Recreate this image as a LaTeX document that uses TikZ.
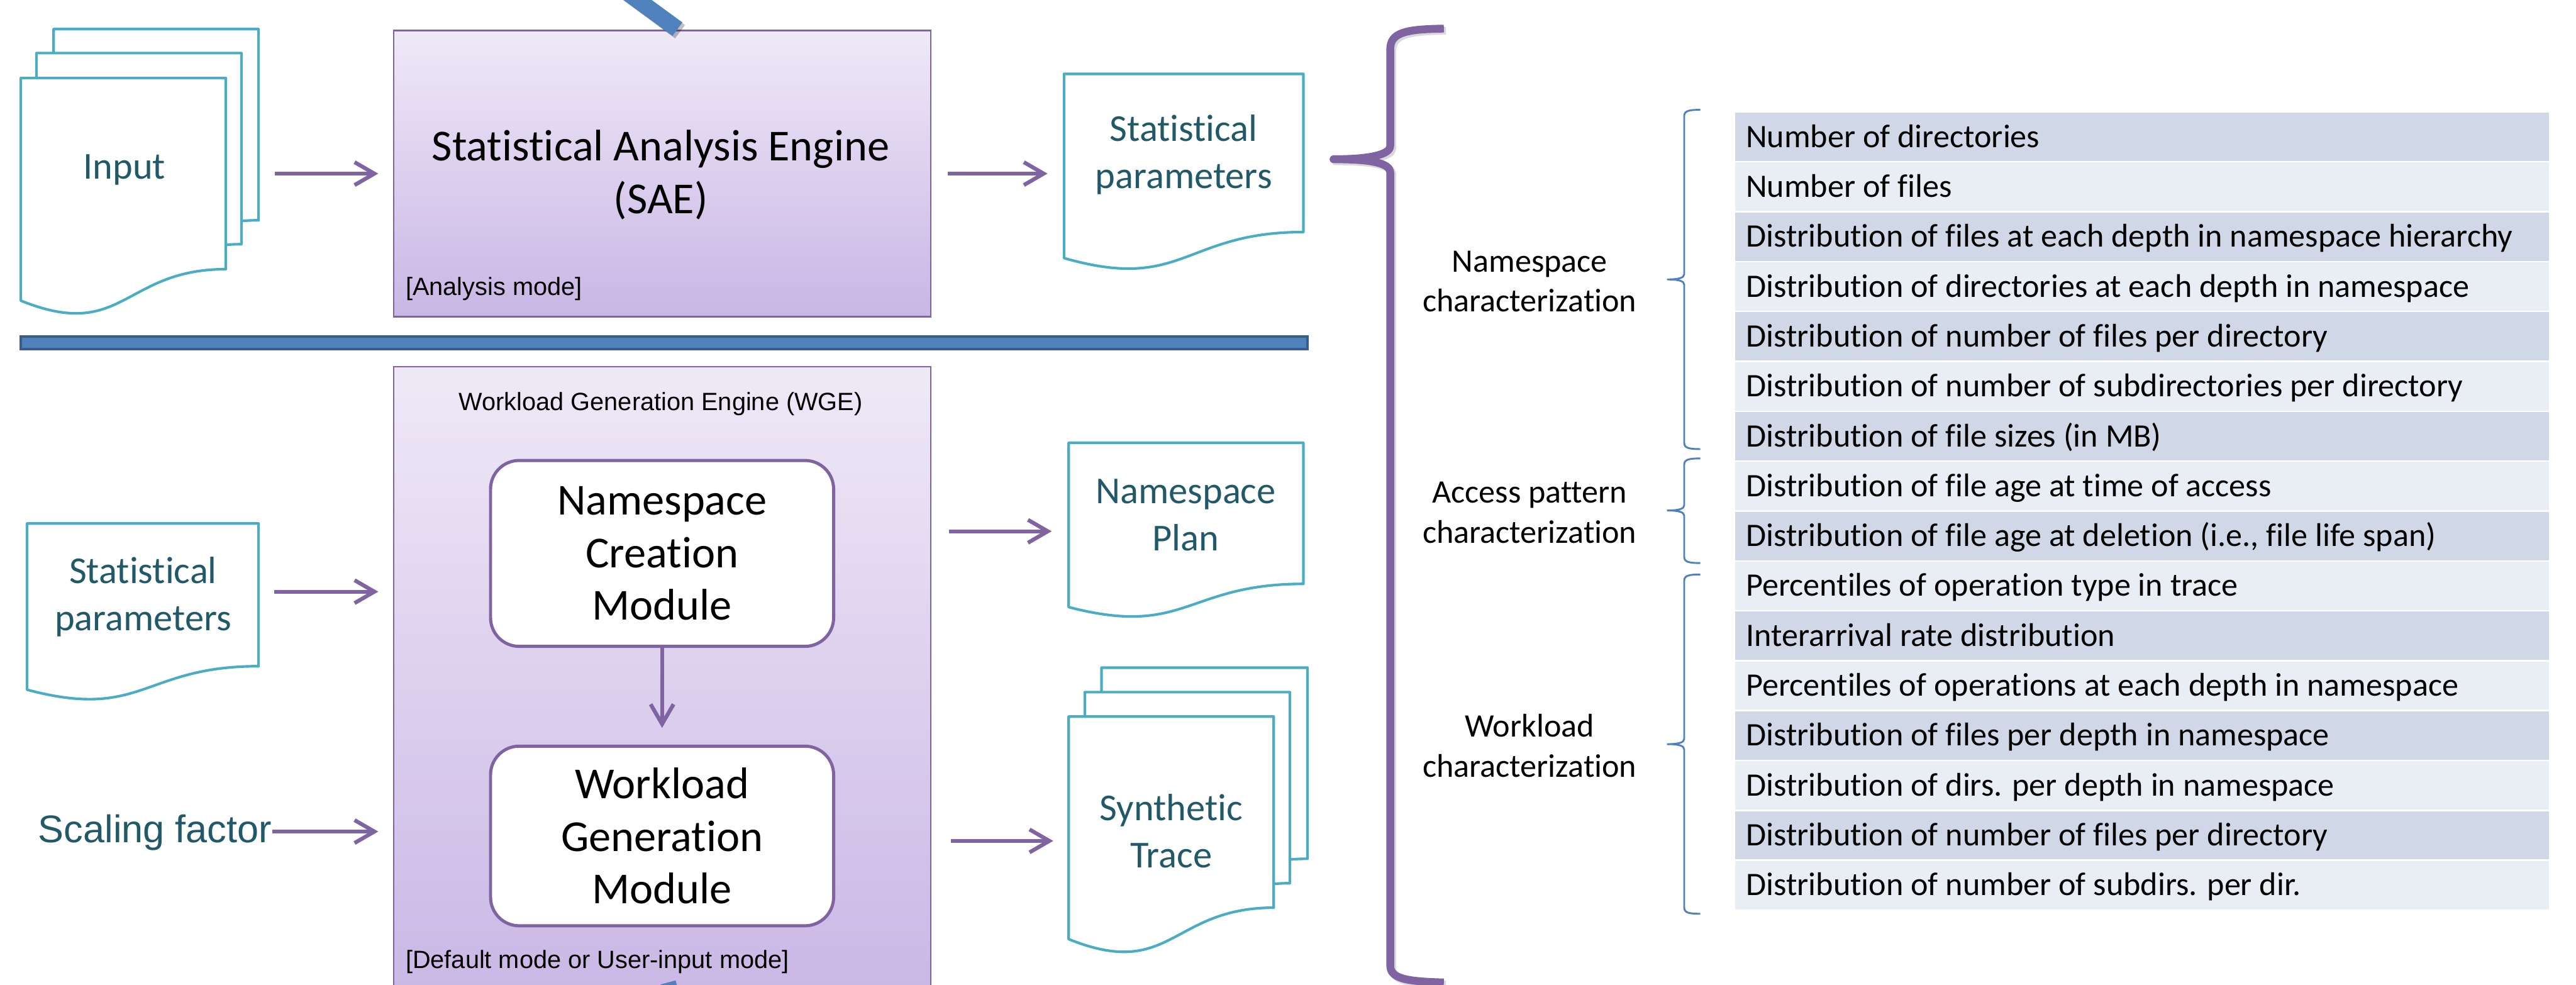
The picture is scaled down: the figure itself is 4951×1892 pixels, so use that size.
\documentclass[tikz,border=0pt]{standalone}
\usepackage{fontspec}
\setmainfont{Carlito}[Ligatures=NoCommon]
\newfontfamily\arialf{Liberation Sans}
\usetikzlibrary{arrows.meta,fit}
\definecolor{purp}{HTML}{8064A2}
\definecolor{docc}{HTML}{4BACC6}
\definecolor{tealt}{HTML}{215968}
\definecolor{barb}{HTML}{4F81BD}
\definecolor{bard}{HTML}{385D8A}
\definecolor{rowd}{HTML}{D0D8E8}
\definecolor{rowl}{HTML}{E9EDF4}
\definecolor{gtop}{HTML}{EFE9F7}
\definecolor{gbot}{HTML}{C9B6E5}
\newcommand\fszpx[2]{\fontsize{\fpeval{#1*0.28453}pt}{\fpeval{#2*0.28453}pt}\selectfont}
% document shape: name, left, top, right, height
\newcommand\docshape[5]{%
  \draw[docshp] (#2,#3) -- (#4,#3) -- (#4,{#3+0.802*#5})
    .. controls ({(#2+#4)/2},{#3+0.802*#5}) and ({(#2+#4)/2},{#3+1.1075*#5}) .. (#2,{#3+0.934*#5}) -- cycle;
  \node[fit={(#2,#3) (#4,{#3+0.934*#5})}, inner sep=0pt] (#1) {};}
% small brace: top, cusp, bottom
\newcommand\sbrace[3]{%
  \draw[sbr] (3268,#1) .. controls (3246,#1) and (3237,{#1+2}) .. (3237,{#1+12})
    -- (3237,{#2-10}) .. controls (3237,{#2-3}) and (3226,#2) .. (3204,#2)
    .. controls (3226,#2) and (3237,{#2+3}) .. (3237,{#2+10})
    -- (3237,{#3-12}) .. controls (3237,{#3-2}) and (3246,#3) .. (3268,#3);}
\begin{document}
\begin{tikzpicture}[x=0.01cm,y=-0.01cm,
  docshp/.style={draw=docc, line width=0.05cm, fill=white, line join=round},
  doctext/.style={text=tealt, font=\fszpx{73}{90}, align=center, inner sep=0pt},
  arr/.style={draw=purp, line width=0.075cm, -{Straight Barb[length=3.8mm,width=4.4mm]}},
  engine/.style={draw=purp, line width=0.03cm, top color=gtop, bottom color=gbot, inner sep=0pt},
  module/.style={draw=purp, line width=0.06cm, fill=white, rounded corners=0.55cm, inner sep=0pt,
                 font=\fszpx{85}{101}, align=center},
  bigtext/.style={font=\fszpx{85}{102}, align=center, inner sep=0pt},
  modetext/.style={font=\arialf\fszpx{48}{58}, inner sep=0pt},
  chartext/.style={font=\fszpx{63}{77}, align=center, inner sep=0pt},
  rowtext/.style={font=\fszpx{63}{77}, inner sep=0pt, anchor=base west},
  sbr/.style={draw=barb, line width=0.035cm}]
\useasboundingbox (0,0) rectangle (4951,1892);
\clip (0,0) rectangle (4951,1892);
\fill[white] (0,0) rectangle (4951,1892);

% ---------- engines ----------
\node[engine, minimum width=10.32cm, minimum height=5.5cm, anchor=north west] (sae) at (755,57) {};
\node[bigtext] (saeT) at (1270,336) {Statistical Analysis Engine\\(SAE)};
\node[modetext, anchor=base west] (saeM) at (779,568) {[Analysis mode]};

\node[engine, minimum width=10.32cm, minimum height=12.4cm, anchor=north west] (wge) at (755,703) {};
\node[modetext] (wgeT) at (1270,776) {Workload Generation Engine (WGE)};
\node[modetext, anchor=base west] (wgeM) at (779,1861) {[Default mode or User-input mode]};

\node[module, minimum width=6.59cm, minimum height=3.57cm] (ncm) at (1272.5,1063.5) {Namespace\\Creation\\Module};
\node[module, minimum width=6.59cm, minimum height=3.45cm] (wgm) at (1272.5,1606.5) {Workload\\Generation\\Module};
\draw[arr, shorten >=0.32cm] (ncm) -- (wgm);

% ---------- blue bars ----------
\draw[black, opacity=0.25, line width=0.32cm] (1177,-35) -- (1307,61);
\draw[barb, line width=0.32cm] (1172,-39) -- (1302,56);
\draw[barb, line width=0.30cm] (1284,1888) -- (1308,1980);
\draw[draw=bard, fill=barb, line width=0.045cm] (40,647) rectangle (2513,671);

% ---------- input documents ----------
\docshape{inB}{103}{56}{497}{458}
\docshape{inM}{70}{102}{464}{458}
\docshape{inF}{40}{150}{434}{458}
\node[doctext] (inT) at (239,326) {Input};
\draw[arr, shorten <=0.93cm, shorten >=0.28cm] (inF.east |- sae.west) -- (sae.west);

\docshape{spL}{52}{1006}{497}{342}
\node[doctext] (spLT) at (275,1147) {Statistical\\parameters};
\coordinate (spA) at (497,1137);
\draw[arr, shorten <=0.30cm, shorten >=0.28cm] (spA) -- (spA -| wge.west);

\node[text=tealt, font=\arialf\fszpx{74}{90}, inner sep=0pt, anchor=base west] (sf) at (73,1619) {Scaling factor};
\coordinate (sfA) at (523,1598);
\draw[arr, shorten >=0.28cm] (sfA) -- (sfA -| wge.west);

% ---------- output documents ----------
\docshape{spR}{2045}{142}{2505}{379}
\node[doctext] (spRT) at (2275,297) {Statistical\\parameters};
\draw[arr, shorten <=0.31cm, shorten >=0.31cm] (sae.east) -- (sae.east -| spR.west);

\docshape{npR}{2054}{851}{2505}{338}
\node[doctext] (npRT) at (2279,990) {Namespace\\Plan};
\coordinate (npA) at (1787,1021);
\draw[arr, shorten <=0.37cm, shorten >=0.32cm] (npA) -- (npA -| npR.west);

\docshape{stB}{2117}{1283}{2513}{458}
\docshape{stM}{2085}{1330}{2479}{458}
\docshape{stF}{2054}{1377}{2448}{458}
\node[doctext] (stT) at (2251,1597) {Synthetic\\Trace};
\coordinate (stA) at (1787,1616);
\draw[arr, shorten <=0.40cm, shorten >=0.29cm] (stA) -- (stA -| stF.west);

% ---------- big brace ----------
\draw[black, opacity=0.15, line width=0.15cm, line join=round]
  (2779,59) .. controls (2704,60) and (2676,67) .. (2676,99) -- (2676,284)
  .. controls (2676,302) and (2634,310) .. (2567,310)
  .. controls (2634,310) and (2676,316) .. (2676,336) -- (2676,1859)
  .. controls (2676,1884) and (2704,1890) .. (2779,1892);
\draw[purp, line width=0.15cm, line join=round]
  (2775,55) .. controls (2700,56) and (2672,63) .. (2672,95) -- (2672,280)
  .. controls (2672,298) and (2630,306) .. (2563,306)
  .. controls (2630,306) and (2672,312) .. (2672,332) -- (2672,1855)
  .. controls (2672,1880) and (2700,1886) .. (2775,1888);

% ---------- characterization labels ----------
\node[chartext] (nsC) at (2940,541) {Namespace\\characterization};
\node[chartext] (apC) at (2940,985) {Access pattern\\characterization};
\node[chartext] (wlC) at (2940,1433) {Workload\\characterization};

\sbrace{211}{537}{863}
\sbrace{881}{981}{1082}
\sbrace{1104}{1430}{1756}

% ---------- table ----------
\foreach \t [count=\i] in {
  Number of directories,
  Number of files,
  Distribution of files at each depth in namespace hierarchy,
  Distribution of directories at each depth in namespace,
  Distribution of number of files per directory,
  Distribution of number of subdirectories per directory,
  Distribution of file sizes (in MB),
  Distribution of file age at time of access,
  {Distribution of file age at deletion (i.e., file life span)},
  Percentiles of operation type in trace,
  Interarrival rate distribution,
  Percentiles of operations at each depth in namespace,
  Distribution of files per depth in namespace,
  Distribution of dirs. per depth in namespace,
  Distribution of number of files per directory,
  Distribution of number of subdirs. per dir.}{
  \pgfmathsetmacro\ytop{215+95.875*(\i-1)}
  \ifodd\i\def\rc{rowd}\else\def\rc{rowl}\fi
  \fill[\rc] (3335,{\ytop+1.5}) rectangle (4899,{\ytop+94.4});
  \node[rowtext] (r\i) at (3355,{\ytop+68}) {\t};
}
\end{tikzpicture}
\end{document}
